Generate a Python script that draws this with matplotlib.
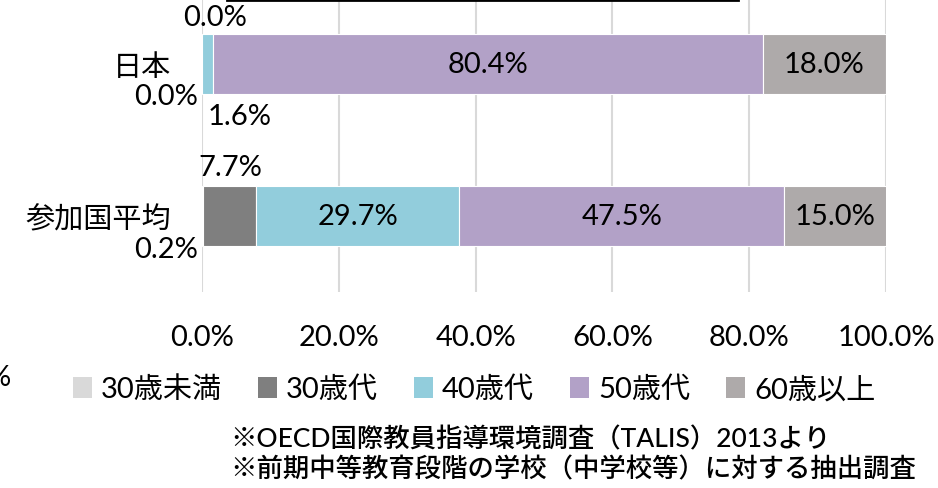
"""Age distribution of principals: Japan vs TALIS 2013 average (stacked 100% bar)."""

import matplotlib
matplotlib.use("Agg")
import matplotlib.pyplot as plt
from matplotlib.lines import Line2D
from matplotlib.patches import Patch
import numpy as np

plt.rcParams["font.family"] = ["Lato", "Noto Sans CJK JP", "DejaVu Sans"]

# --- data -------------------------------------------------------------
categories = ["日本", "参加国平均"]
series = ["30歳未満", "30歳代", "40歳代", "50歳代", "60歳以上"]
values = {
    "30歳未満": [0.0, 0.2],
    "30歳代": [0.0, 7.7],
    "40歳代": [1.6, 29.7],
    "50歳代": [80.4, 47.5],
    "60歳以上": [18.0, 15.0],
}
xticks = [0, 20, 40, 60, 80, 100]
notes = [
    "※OECD国際教員指導環境調査（TALIS）2013より",
    "※前期中等教育段階の学校（中学校等）に対する抽出調査",
]

colors = ["#d9d9d9", "#7f7f7f", "#92cddc", "#b2a1c7", "#aeaaaa"]
FS = 21

# labels inside the bars for the wide segments; small ones are moved outside
# (row, series index) -> (dx px, dy px, ha); dy positive = up
outside = {
    (0, 1): (13, 47, "center"),
    (0, 0): (-4, -32, "right"),
    (0, 2): (38, -52, "center"),
    (1, 1): (27, 49, "center"),
    (1, 0): (-4, -33, "right"),
}

W, H = 938, 489
fig = plt.figure(figsize=(W / 100, H / 100), dpi=100)
ax = fig.add_axes([202 / W, (H - 293) / H, 684 / W, (293 + 11) / H])

y = np.arange(len(categories))
left = np.zeros(len(categories))
for i, (name, col) in enumerate(zip(series, colors)):
    vals = np.array(values[name])
    ax.barh(y, vals, left=left, height=60 / 152, color=col,
            edgecolor="white", linewidth=0.8, zorder=2)
    for r, v in enumerate(vals):
        label = f"{v:.1f}%"
        if (r, i) in outside:
            dx, dy, ha = outside[(r, i)]
            ax.annotate(label, (left[r], y[r]), xytext=(dx * 0.72, dy * 0.72),
                        textcoords="offset points", ha=ha, va="center",
                        fontsize=FS, color="#000000")
        else:
            ax.text(left[r] + v / 2, y[r], label, ha="center", va="center",
                    fontsize=FS, color="#000000", zorder=3)
    left += vals

ax.set_xlim(0, 100)
ax.set_ylim(1.5, -0.5)
ax.set_yticks(y)
ax.set_yticklabels(categories, fontsize=FS)
ax.set_xticks(xticks)
ax.set_xticklabels([f"{t:.1f}%" for t in xticks], fontsize=FS)
ax.tick_params(axis="y", length=0, pad=22)
ax.tick_params(axis="x", length=0, pad=23)
ax.grid(axis="x", color="#d9d9d9", linewidth=1.5, zorder=0)
for s in ax.spines.values():
    s.set_visible(False)

handles = [Patch(facecolor=c, edgecolor="none") for c in colors]
fig.legend(handles, series, loc="center", bbox_to_anchor=(474 / W, 1 - 390 / H),
           ncol=5, frameon=False, fontsize=FS, handlelength=0.65,
           handleheight=0.75, handletextpad=0.3, columnspacing=1.25)

for k, txt in enumerate(notes):
    fig.text(230 / W, 1 - (440 + 30 * k) / H, txt, fontsize=19,
             fontweight="medium", ha="left", va="center")

# edge of a neighbouring box and a cut-off label at the left border
fig.add_artist(Line2D([227 / W, 738 / W], [1 - 1 / H, 1 - 1 / H],
                      color="black", linewidth=2))
fig.text(-12 / W, 1 - 378 / H, "%", fontsize=FS, ha="left", va="center")

fig.savefig("out.png", dpi=100)
